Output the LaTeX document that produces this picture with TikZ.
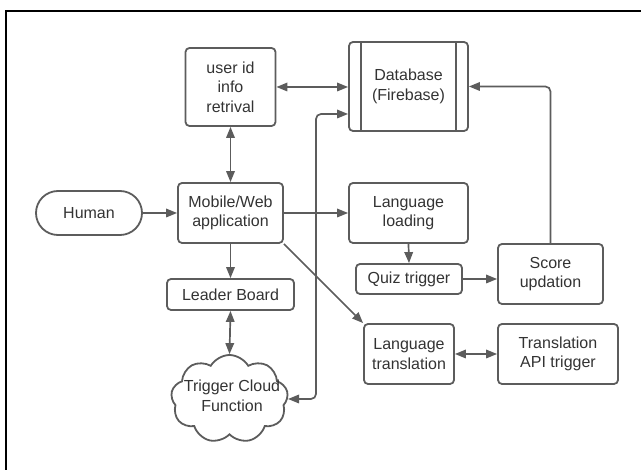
\documentclass[tikz,border=0pt]{standalone}
\usepackage{fontspec}
\setmainfont{Liberation Sans}
\usetikzlibrary{arrows.meta,shapes.symbols,calc}
\definecolor{ln}{HTML}{5C5C5C}
\definecolor{tx}{HTML}{333333}
\begin{document}
\begin{tikzpicture}[x=1pt,y=-1pt,
  every node/.style={font=\fontsize{16}{19.5}\selectfont, text=tx, align=center},
  box/.style={draw=ln, line width=1.8pt, rounded corners=4pt, inner sep=0pt},
  conn/.style={draw=ln, line width=1.7pt, -{Triangle[length=11pt,width=8.5pt]}},
  bconn/.style={draw=ln, line width=1.7pt, {Triangle[length=11pt,width=8.5pt]}-{Triangle[length=11pt,width=8.5pt]}}]
\useasboundingbox (0,0) rectangle (641,470);
\draw[black, line width=1.8pt] (641,11) -- (6,11) -- (6,470);

\node[box, minimum width=90pt, minimum height=78pt] (uid) at (230.5,87) {user id\\info\\retrival};
\node[box, minimum width=119pt, minimum height=89pt] (db) at (408.5,86.5) {Database\\(Firebase)};
\draw[ln, line width=1.8pt] ([xshift=13pt]db.north west) -- ([xshift=13pt]db.south west);
\draw[ln, line width=1.8pt] ([xshift=-13pt]db.north east) -- ([xshift=-13pt]db.south east);
\node[box, rounded corners=22pt, minimum width=106pt, minimum height=44pt] (human) at (89,213) {Human};
\node[box, minimum width=105pt, minimum height=60pt] (app) at (230.5,213) {Mobile/Web\\application};
\node[box, minimum width=119pt, minimum height=60pt] (lang) at (408.5,213) {Language\\loading};
\node[box, minimum width=106pt, minimum height=30pt] (quiz) at (409,279) {Quiz trigger};
\node[box, minimum width=105pt, minimum height=60pt] (score) at (550.5,274) {Score\\updation};
\node[box, minimum width=90pt, minimum height=60pt] (trans) at (409,354) {Language\\translation};
\node[box, minimum width=120pt, minimum height=60pt] (api) at (558,354) {Translation\\API trigger};
\node[box, minimum width=127pt, minimum height=31pt] (leader) at (230.5,294.5) {Leader Board};
\node[cloud, draw=ln, line width=1.8pt, cloud puffs=9, cloud puff arc=120, cloud ignores aspect, minimum width=117pt, minimum height=88pt, inner sep=0pt] (cloud) at (229.5,399) {};
\node[inner sep=0pt] (cloudtext) at (232,396) {Trigger Cloud\\Function};
\coordinate (j) at (316,114);

\draw[bconn] (uid.east) -- (uid.east -| db.west);
\draw[bconn] (uid.south) -- (app.north);
\draw[conn] (human.east) -- (app.west);
\draw[conn] (app.east) -- (lang.west);
\draw[conn] (app.south) -- (leader.north);
\draw[bconn] (leader.south) -- (cloud.north);
\draw[conn] (app.south east) -- (trans.north west);
\draw[conn] (lang.south) -- (quiz.north);
\draw[conn] (quiz.east) -- (quiz.east -| score.west);
\draw[bconn] (trans.east) -- (api.west);
\draw[conn, rounded corners=5pt] (score.north) |- (db.east);
\draw[bconn, rounded corners=5pt] (cloud.east) -| (j) -- (j -| db.west);
\end{tikzpicture}
\end{document}
